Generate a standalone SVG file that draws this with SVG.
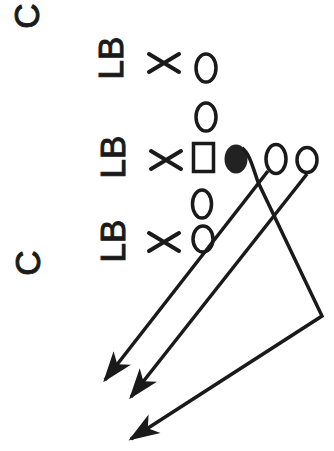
<svg xmlns="http://www.w3.org/2000/svg" width="334" height="451" viewBox="0 0 334 451">
<defs>
<style>
.lbl{font-family:"Liberation Sans",Arial,sans-serif;font-size:35px;fill:#1a1a1a;stroke:#1a1a1a;stroke-width:1;text-anchor:middle}
.o{fill:none;stroke:#1a1a1a;stroke-width:3.5}
.x{stroke:#1a1a1a;stroke-width:4;stroke-linecap:round}
.route{fill:none;stroke:#1a1a1a;stroke-width:3.5;stroke-linejoin:miter}
</style>
<marker id="arr" markerUnits="userSpaceOnUse" markerWidth="44" markerHeight="34" viewBox="-34 -17 44 34" refX="0" refY="0" orient="auto">
<path d="M3,0 L-28,-11 L-20,0 L-28,11 Z" fill="#1a1a1a"/>
</marker>
</defs>
<rect width="334" height="451" fill="#ffffff"/>
<g id="C1"><text class="lbl" transform="translate(26,16) rotate(-90)" y="12.5">C</text></g>
<g id="C2"><text class="lbl" transform="translate(27,263) rotate(-90)" y="12.5">C</text></g>
<g id="LB1"><text class="lbl" transform="translate(110,58) rotate(-90)" y="12.5">LB</text></g>
<g id="LB2"><text class="lbl" transform="translate(112,157) rotate(-90)" y="12.5">LB</text></g>
<g id="LB3"><text class="lbl" transform="translate(112,241) rotate(-90)" y="12.5">LB</text></g>
<g id="X1"><path class="x" d="M149,54 L179,72 M149,72 L179,54"/></g>
<g id="X2"><path class="x" d="M151,151 L181,169 M151,169 L181,151"/></g>
<g id="X3"><path class="x" d="M149,233 L179,251 M149,251 L179,233"/></g>
<g id="O1"><ellipse class="o" cx="206" cy="68" rx="10" ry="14"/></g>
<g id="O2"><ellipse class="o" cx="206" cy="117" rx="10" ry="14"/></g>
<g id="Center"><rect class="o" x="193.5" y="143.5" width="20" height="28"/></g>
<g id="Ball"><ellipse cx="236" cy="159" rx="11.5" ry="14.5" fill="#222"/></g>
<g id="O3"><ellipse class="o" cx="276" cy="159" rx="10" ry="14.5"/></g>
<g id="O4"><ellipse class="o" cx="307" cy="160" rx="10" ry="12.5"/></g>
<g id="O5"><ellipse class="o" cx="202" cy="204" rx="9.5" ry="14"/></g>
<g id="O6"><ellipse class="o" cx="203" cy="239" rx="10" ry="13"/></g>
<g id="connectors">
<path class="route" d="M242,148 C250,154 253,168 258,182 L322,316 L131,439" marker-end="url(#arr)"/>
<path class="route" d="M268,171 L105,380" marker-end="url(#arr)"/>
<path class="route" d="M307,174 L131,397" marker-end="url(#arr)"/>
</g>
</svg>
